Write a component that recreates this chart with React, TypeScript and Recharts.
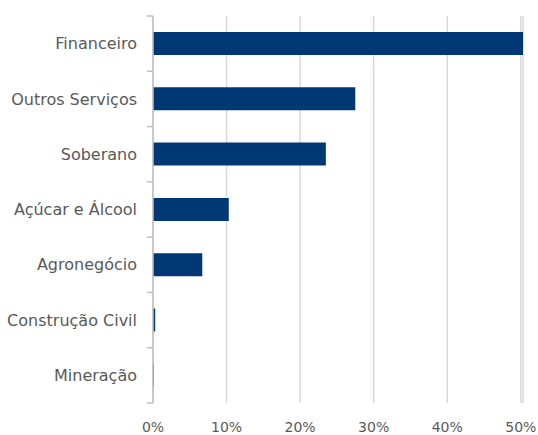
import { BarChart, Bar, XAxis, YAxis, CartesianGrid } from 'recharts';

const sectors = [
  'Financeiro',
  'Outros Serviços',
  'Soberano',
  'Açúcar e Álcool',
  'Agronegócio',
  'Construção Civil',
  'Mineração',
];
const shares = [0.503, 0.275, 0.235, 0.103, 0.067, 0.003, 0.001];
const xTicks = [0, 0.1, 0.2, 0.3, 0.4, 0.5];

const data = sectors.map((name, i) => ({ name, value: shares[i] }));

const TEXT = '#595959';
const FONT = '"DejaVu Sans", Verdana, sans-serif';

// category ticks sit between the bands, like the spreadsheet original
function SectorTick(props: any) {
  const { x, y, payload, index, visibleTicksCount } = props;
  const half = payload.offset || 0;
  const axisX = x + 8;
  return (
    <g>
      <line x1={axisX - 6} x2={axisX} y1={y - half} y2={y - half} stroke="#bfbfbf" strokeWidth={1.5} />
      {index === visibleTicksCount - 1 && (
        <line x1={axisX - 6} x2={axisX} y1={y + half} y2={y + half} stroke="#bfbfbf" strokeWidth={1.5} />
      )}
      <text x={axisX - 16} y={y} dy="0.35em" textAnchor="end" fill={TEXT} fontSize={16} fontFamily={FONT}>
        {payload.value}
      </text>
    </g>
  );
}

export default function App() {
  return (
    <div style={{ position: 'absolute', left: 0, top: 0, background: '#fff' }}>
      <BarChart
        width={538}
        height={435}
        data={data}
        layout="vertical"
        margin={{ top: 16, right: 15, bottom: 0, left: 0 }}
        barCategoryGap="29%"
      >
        <CartesianGrid horizontal={false} stroke="#d9d9d9" strokeWidth={1.5} />
        <XAxis
          type="number"
          domain={[0, 0.503]}
          ticks={xTicks}
          tickFormatter={(v: number) => `${Math.round(v * 100)}%`}
          axisLine={false}
          tickLine={false}
          tickMargin={13}
          height={32}
          tick={{ fill: TEXT, fontSize: 14, fontFamily: FONT }}
        />
        <YAxis
          type="category"
          dataKey="name"
          width={153}
          axisLine={{ stroke: '#bfbfbf', strokeWidth: 1.5 }}
          tickLine={false}
          tick={<SectorTick />}
        />
        <Bar dataKey="value" fill="#003876" isAnimationActive={false} />
      </BarChart>
    </div>
  );
}
